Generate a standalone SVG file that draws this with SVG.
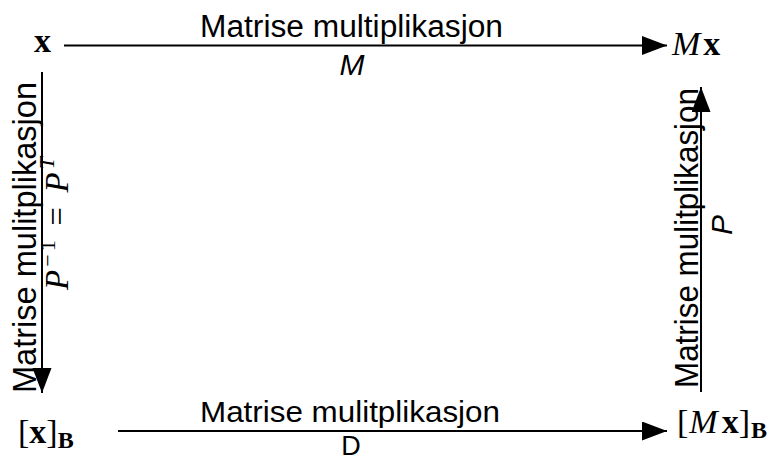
<svg xmlns="http://www.w3.org/2000/svg" width="774" height="459" viewBox="0 0 774 459">
<style>
.lbl{font-family:"Liberation Sans",Arial,sans-serif;fill:#000}
.math{font-family:"Liberation Serif","Times New Roman",serif;fill:#000}
.it{font-style:italic}
.bf{font-weight:bold}
.edge{stroke:#000;stroke-width:2;fill:none}
</style>
<defs>
<marker id="arr" markerUnits="userSpaceOnUse" markerWidth="26" markerHeight="20" refX="25" refY="9.5" orient="auto">
<path d="M0,0 L25,9.5 L0,19 z" fill="#000"/>
</marker>
</defs>
<g id="node-x"><text class="math bf" x="42.5" y="52" font-size="34" text-anchor="middle">x</text></g>
<g id="node-Mx"><text class="math" x="672" y="55" font-size="34"><tspan class="it">M</tspan><tspan class="bf" dx="3">x</tspan></text></g>
<g id="node-xB"><text class="math" x="18" y="443" font-size="34">[<tspan class="bf">x</tspan>]<tspan class="bf" font-size="24" dy="5">B</tspan></text></g>
<g id="node-MxB"><text class="math" x="677" y="433" font-size="34">[<tspan class="it" dx="1">M</tspan><tspan class="bf" dx="4">x</tspan>]<tspan class="bf" font-size="24" dy="5" dx="1">B</tspan></text></g>
<g id="connectors">
<line class="edge" x1="64" y1="45.5" x2="667" y2="45.5" marker-end="url(#arr)"/>
<line class="edge" x1="118" y1="431" x2="667" y2="431" marker-end="url(#arr)"/>
<line class="edge" x1="42" y1="72" x2="42" y2="393" marker-end="url(#arr)"/>
<line class="edge" x1="701" y1="392" x2="701" y2="87" marker-end="url(#arr)"/>
<text class="lbl" x="200" y="37" font-size="31" textLength="303" lengthAdjust="spacingAndGlyphs">Matrise multiplikasjon</text>
<text class="lbl it" x="352" y="75" font-size="30" text-anchor="middle">M</text>
<text class="lbl" x="200" y="422" font-size="30" textLength="300" lengthAdjust="spacingAndGlyphs">Matrise mulitplikasjon</text>
<text class="lbl" x="351" y="455" font-size="27" text-anchor="middle">D</text>
<text class="lbl" transform="translate(36,393) rotate(-90)" font-size="34" textLength="311" lengthAdjust="spacingAndGlyphs">Matrise mulitplikasjon</text>
<text class="math" transform="translate(68,290) rotate(-90)" font-size="33" textLength="133" lengthAdjust="spacing"><tspan class="it">P</tspan><tspan font-size="22" dy="-13">−1</tspan><tspan dy="13"> = </tspan><tspan class="it">P</tspan><tspan class="it" font-size="22" dy="-14">T</tspan></text>
<text class="lbl" transform="translate(698,388) rotate(-90)" font-size="33" textLength="300" lengthAdjust="spacingAndGlyphs">Matrise mulitplikasjon</text>
<text class="lbl it" transform="translate(732,225) rotate(-90)" font-size="30" text-anchor="middle">P</text>
</g>
</svg>
